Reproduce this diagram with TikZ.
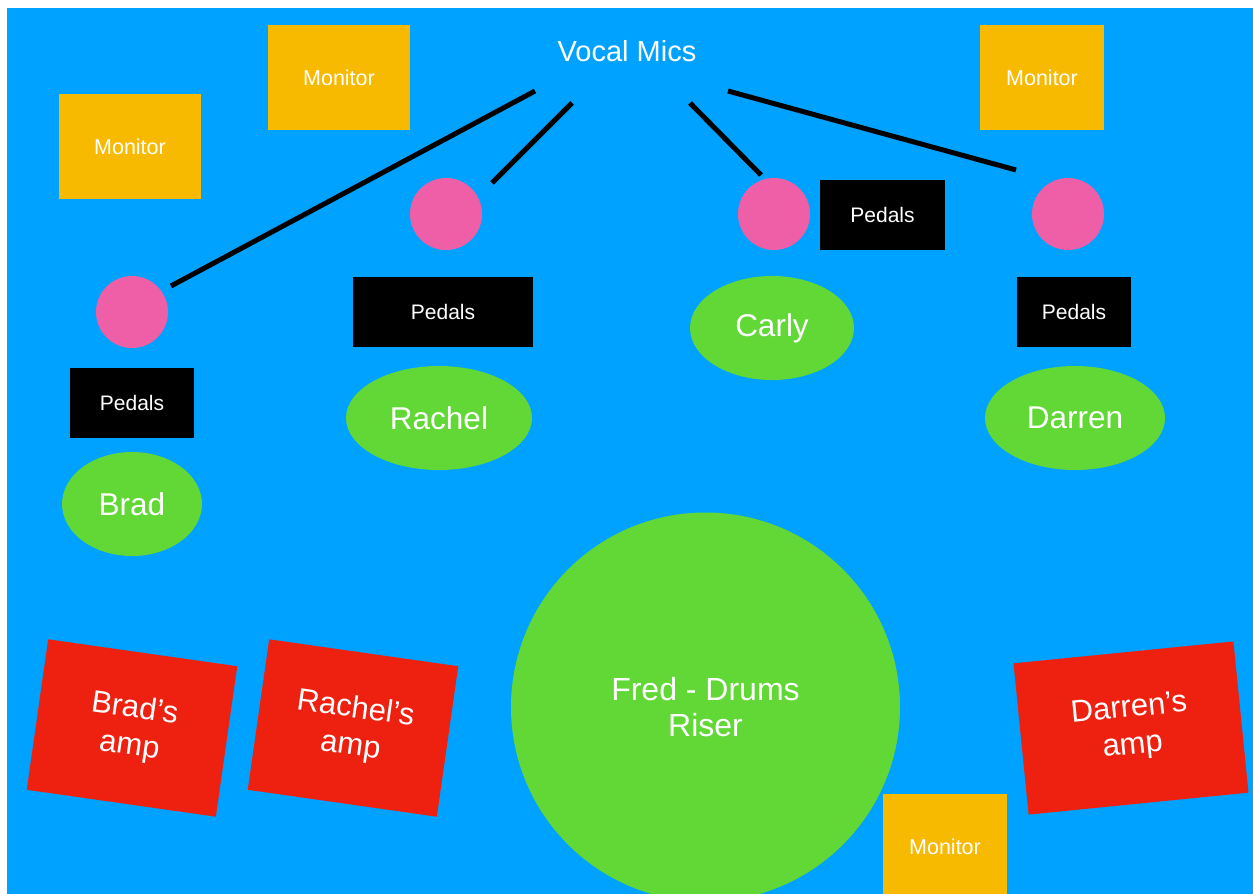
\documentclass[tikz,border=0pt]{standalone}
\usepackage{fontspec}
\setmainfont{Liberation Sans}
\usetikzlibrary{shapes.geometric}
\definecolor{stageblue}{HTML}{00A2FF}
\definecolor{monorange}{HTML}{F8BA00}
\definecolor{micpink}{HTML}{EF5FA7}
\definecolor{persgreen}{HTML}{61D836}
\definecolor{ampred}{HTML}{EE2010}
\tikzset{
  monitorbox/.style={fill=monorange, draw=none, minimum height=105pt, inner sep=0pt, text=white, font=\fontsize{21.5}{25}\selectfont},
  pedalbox/.style={fill=black, draw=none, minimum height=70pt, inner sep=0pt, text=white, font=\fontsize{21}{25}\selectfont},
  micdot/.style={circle, fill=micpink, draw=none, minimum size=72pt, inner sep=0pt},
  person/.style={ellipse, fill=persgreen, draw=none, minimum height=104pt, inner sep=0pt, text=white, font=\fontsize{31.5}{36}\selectfont},
  ampbox/.style={fill=ampred, draw=none, minimum width=191pt, minimum height=152pt, inner sep=0pt, text=white, align=center, font=\fontsize{31}{37}\selectfont},
  micline/.style={line width=5pt, black}
}
\begin{document}
\begin{tikzpicture}[x=1pt, y=-1pt]
\useasboundingbox (0,0) rectangle (1253,894);
\clip (0,0) rectangle (1253,894);
\fill[white] (0,0) rectangle (1253,894);
\fill[stageblue] (7,8) rectangle (1253,894);

% monitors
\node[monitorbox, minimum width=142pt] (monL) at (130,146.5) {Monitor};
\node[monitorbox, minimum width=142pt] (monT) at (339,77.5) {Monitor};
\node[monitorbox, minimum width=124pt] (monR) at (1042,77.5) {Monitor};
\node[monitorbox, minimum width=124pt] (monB) at (945,846.5) {Monitor};

% vocal mics label
\node[text=white, font=\fontsize{29}{34}\selectfont] (vocal) at (627,51) {Vocal Mics};

% mic dots
\node[micdot] (micBrad) at (132,312) {};
\node[micdot] (micRachel) at (446,214) {};
\node[micdot] (micCarly) at (774,214) {};
\node[micdot] (micDarren) at (1068,214) {};

% mic lines
\coordinate (l1a) at (535,91);  \coordinate (l1b) at (171,286);
\coordinate (l2a) at (572,103); \coordinate (l2b) at (492,183);
\coordinate (l3a) at (690,103); \coordinate (l3b) at (761,175);
\coordinate (l4a) at (728,91);  \coordinate (l4b) at (1016,170);
\draw[micline] (l1a) -- (l1b);
\draw[micline] (l2a) -- (l2b);
\draw[micline] (l3a) -- (l3b);
\draw[micline] (l4a) -- (l4b);

% pedals
\node[pedalbox, minimum width=124pt] (pedBrad) at (132,403) {Pedals};
\node[pedalbox, minimum width=180pt] (pedRachel) at (443,312) {Pedals};
\node[pedalbox, minimum width=125pt] (pedCarly) at (882.5,215) {Pedals};
\node[pedalbox, minimum width=114pt] (pedDarren) at (1074,312) {Pedals};

% people
\node[person, minimum width=140pt] (brad) at (132,504) {Brad};
\node[person, minimum width=186pt] (rachel) at (439,418) {Rachel};
\node[person, minimum width=164pt] (carly) at (772,328) {Carly};
\node[person, minimum width=180pt] (darren) at (1075,418) {Darren};

% drums
\node[circle, fill=persgreen, draw=none, minimum size=389pt, inner sep=0pt, text=white, align=center, font=\fontsize{32}{36}\selectfont] (fred) at (705.5,707) {Fred - Drums\\Riser};

% amps
\node[ampbox, rotate=-8.1] (ampBrad) at (132,728) {Brad’s\\amp};
\node[ampbox, rotate=-8.1] (ampRachel) at (353,728) {Rachel’s\\amp};
\node[ampbox, minimum width=221pt, rotate=5.7] (ampDarren) at (1131,728) {Darren’s\\amp};
\end{tikzpicture}
\end{document}
